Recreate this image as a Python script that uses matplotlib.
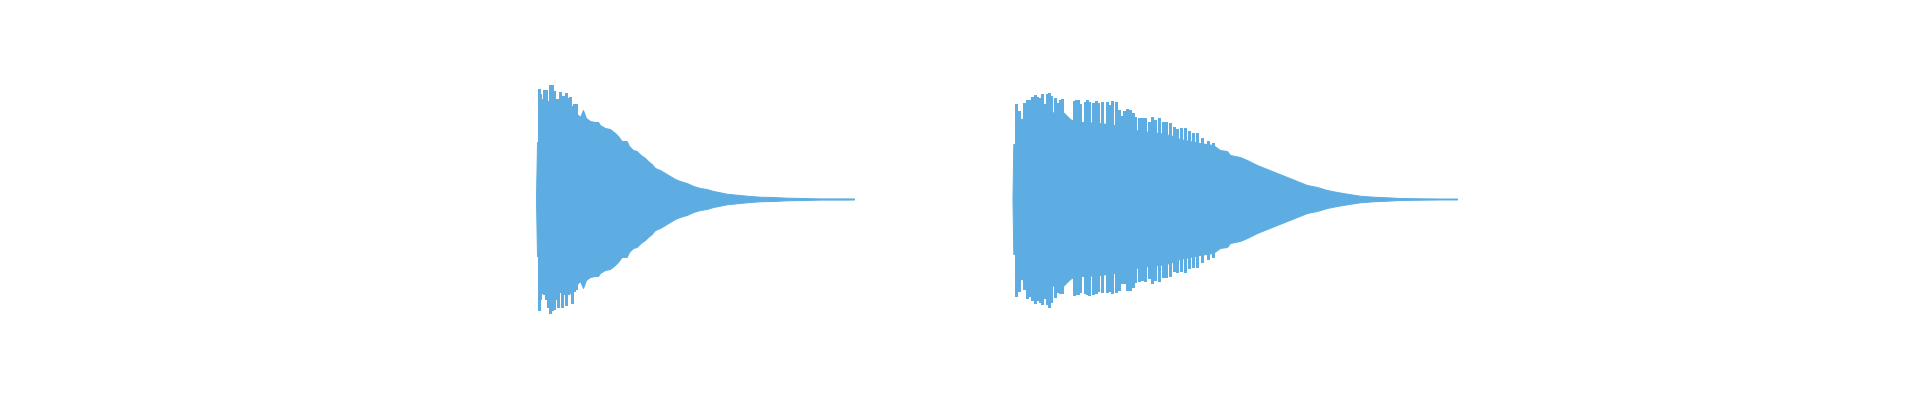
import matplotlib
matplotlib.use("Agg")
import matplotlib.pyplot as plt
import numpy as np

# ---- data: two decaying waveforms (time in 1/100 s, amplitude in arbitrary units) ----
# Wave 1 envelope (symmetric body)
w1_t = [536.0, 537.0, 538.3, 538.6, 545, 555, 565, 572, 576, 580, 583, 586, 590, 595, 598,
        600, 605, 610, 615, 618, 621.7, 626.7, 629, 633, 636.7, 640.7, 645, 648, 651.7, 655,
        660, 665, 670, 675, 680, 686.7, 693.3, 700, 706.7, 713.3, 720, 726.7, 736.7, 746.7,
        760, 773.3, 786.7, 803.3, 820, 846.7, 854]
w1_env = [1.5, 57, 57, 90, 90, 91, 90, 88, 86, 82, 89, 81, 78, 77, 77,
          74, 71, 70, 66, 63, 58, 58, 53, 49, 48, 44, 41, 38, 35, 31,
          29, 26, 23, 20, 18, 16, 13, 11, 10, 8, 6.7, 5.3, 4.3, 3.3,
          2.3, 2, 1.3, 1, 0.6, 0.6, 0.5]
# Wave 1 spikes (time, top, bottom)
w1_spike_t = [539, 540, 542, 544, 546, 548, 550, 552, 554, 556, 558, 560, 562, 564, 566,
              568, 570, 572, 574, 576]
w1_spike_top = [110, 105, 100, 109, 109, 98, 114, 114, 108, 100, 100, 107, 103, 103, 106,
                101, 102, 93, 95, 95]
w1_spike_bot = [111, 100, 94, 95, 100, 108, 114, 111, 110, 100, 108, 93, 108, 95, 106,
                95, 94, 104, 92, 90]

# Wave 2 envelope (symmetric body)
w2_t = [1012.5, 1013.3, 1015, 1015.5, 1020, 1030, 1040, 1047, 1052, 1057, 1062, 1066, 1070,
        1075, 1085, 1100, 1115, 1125, 1135, 1150, 1160, 1170, 1180, 1190, 1200, 1213, 1220,
        1227, 1230, 1240, 1247, 1257, 1267, 1277, 1287, 1297, 1307, 1317, 1327, 1337, 1347,
        1360, 1373, 1387, 1400, 1420, 1440, 1457]
w2_env = [2, 55, 55, 80, 80, 81, 81, 82, 86, 89, 88, 84, 80,
          77, 77, 76, 74, 72, 69, 67, 66, 64, 60, 58, 56, 54, 49,
          48, 44, 42, 39, 34, 30, 26, 22, 18, 14, 12, 9, 7, 5.3,
          3.3, 2.3, 1.7, 1, 0.7, 0.5, 0.5]
# Wave 2 spikes (time, top, bottom)
w2_spike_t = [1016, 1019, 1023.5, 1026.5, 1029.5, 1031.5, 1034.5, 1036.5, 1039.5, 1041.5,
              1043.5, 1046.5, 1048.5, 1051, 1054.5, 1056.5, 1059.5, 1061.5, 1073.5, 1075.5,
              1077.5, 1079.5, 1084.5, 1086.5, 1088.5, 1092.5, 1095.5, 1097.5, 1101.5, 1106.5,
              1108.5, 1111.5, 1115.5, 1119, 1122, 1124, 1127, 1130, 1133, 1135, 1139, 1142,
              1145, 1149, 1152, 1155, 1159, 1163, 1166, 1170, 1174, 1177, 1181, 1185, 1189,
              1193, 1197, 1202, 1208, 1213]
w2_spike_top = [95, 88, 96, 99, 99, 102, 104, 102, 101, 105,
                95, 105, 106, 103, 101, 96, 99, 100, 98, 99,
                99, 95, 97, 99, 97, 96, 98, 96, 97, 97,
                94, 98, 97, 89, 83, 88, 90, 89, 86, 82, 81, 81,
                81, 77, 82, 79, 81, 77, 77, 76, 72, 70, 71, 71, 68,
                66, 66, 61, 58, 56]
w2_spike_bot = [97, 92, 90, 99, 97, 101, 104, 101, 103, 105,
                99, 105, 108, 103, 98, 93, 94, 94, 96, 95,
                95, 93, 94, 95, 96, 95, 94, 92, 93, 93,
                92, 94, 93, 91, 84, 84, 91, 91, 88, 83, 82, 81,
                82, 79, 84, 81, 82, 78, 78, 77, 72, 73, 72, 73, 69,
                68, 68, 63, 60, 58]

COLOR = "#5DADE2"

fig = plt.figure(figsize=(19.2, 4.0), dpi=100)
ax = fig.add_axes([0, 0, 1, 1])
ax.set_xlim(0, 1920)
ax.set_ylim(-201, 199)
ax.axis("off")

for t, env, st, stop, sbot in [(w1_t, w1_env, w1_spike_t, w1_spike_top, w1_spike_bot),
                               (w2_t, w2_env, w2_spike_t, w2_spike_top, w2_spike_bot)]:
    t = np.asarray(t, float)
    env = np.asarray(env, float)
    ax.fill_between(t, -env, env, color=COLOR, linewidth=0.7, edgecolor=COLOR)
    ax.vlines(st, -np.asarray(sbot, float), np.asarray(stop, float),
              color=COLOR, linewidth=1.0, antialiased=False)

fig.savefig("out.png", dpi=100, facecolor="white")
